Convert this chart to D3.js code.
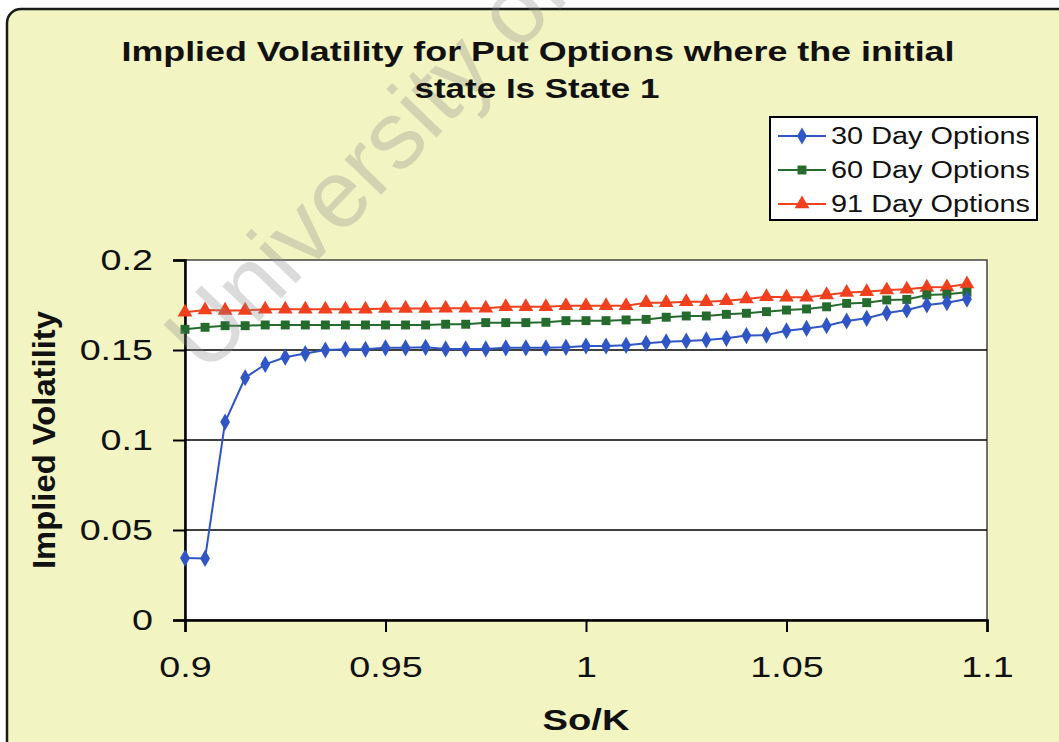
<!DOCTYPE html>
<html lang="en">
<head>
    <meta charset="utf-8">
    <title>Implied Volatility - Put Options</title>
    <script src="https://d3js.org/d3.v7.min.js"></script>
    <style type="text/css">
        body { margin: 0; background: #ffffff; }
        text { font-family: "Liberation Sans", Arial, sans-serif; }
    </style>
</head>
<body>
<script type="text/javascript">
    // chart data
    var moneyness = [0.9, 0.905, 0.91, 0.915, 0.92, 0.925, 0.93, 0.935, 0.94, 0.945,
                     0.95, 0.955, 0.96, 0.965, 0.97, 0.975, 0.98, 0.985, 0.99, 0.995,
                     1.0, 1.005, 1.01, 1.015, 1.02, 1.025, 1.03, 1.035, 1.04, 1.045,
                     1.05, 1.055, 1.06, 1.065, 1.07, 1.075, 1.08, 1.085, 1.09, 1.095];

    var vol30 = [0.0344, 0.0342, 0.110, 0.1346, 0.142, 0.146, 0.148, 0.150, 0.1504, 0.1504,
                 0.1512, 0.1512, 0.1515, 0.1506, 0.1506, 0.1506, 0.1512, 0.1512, 0.1512, 0.1515,
                 0.1522, 0.1522, 0.1526, 0.1537, 0.1546, 0.155, 0.1556, 0.1565, 0.158, 0.1583,
                 0.1607, 0.162, 0.1635, 0.1661, 0.1676, 0.1705, 0.1722, 0.175, 0.1763, 0.1783];

    var vol60 = [0.1615, 0.1626, 0.1635, 0.1635, 0.1639, 0.1639, 0.1639, 0.1639, 0.1639, 0.1639,
                 0.1639, 0.1639, 0.1639, 0.1643, 0.1643, 0.1652, 0.1652, 0.1652, 0.1654, 0.1663,
                 0.1663, 0.1663, 0.1667, 0.167, 0.1682, 0.1689, 0.1689, 0.1698, 0.1704, 0.1713,
                 0.1722, 0.1728, 0.174, 0.1759, 0.1763, 0.1778, 0.1781, 0.1806, 0.181, 0.1821];

    var vol91 = [0.171, 0.1722, 0.172, 0.172, 0.1726, 0.1726, 0.1726, 0.1726, 0.1726, 0.1726,
                 0.1731, 0.1731, 0.1731, 0.1732, 0.1732, 0.1732, 0.174, 0.174, 0.174, 0.1746,
                 0.1746, 0.1746, 0.1746, 0.1763, 0.1763, 0.1768, 0.1768, 0.1774, 0.1783, 0.1796,
                 0.1793, 0.1793, 0.1806, 0.1819, 0.1824, 0.1833, 0.1837, 0.1848, 0.185, 0.1867];

    var seriesNames = ["30 Day Options", "60 Day Options", "91 Day Options"];
    var xTicks = [0.9, 0.95, 1, 1.05, 1.1];
    var yTicks = [0, 0.05, 0.1, 0.15, 0.2];

    var w = 1059, h = 742;
    var plot = {left: 185, top: 260, right: 987, bottom: 620};

    // the scanned chart is a bit wider than it is tall, so text gets stretched sideways
    function stretch(sel, f) {
        sel.each(function() {
            var len = this.getComputedTextLength();
            d3.select(this)
                .attr("textLength", len * f)
                .attr("lengthAdjust", "spacingAndGlyphs");
        });
    }

    var svg = d3.select("body").append("svg")
        .attr("width", w)
        .attr("height", h);

    // chart area (yellow panel with rounded frame)
    svg.append("rect")
        .attr("x", 0).attr("y", 0)
        .attr("width", w).attr("height", h)
        .attr("fill", "#ffffff");
    svg.append("rect")
        .attr("x", 7).attr("y", 9)
        .attr("width", 1070).attr("height", 760)
        .attr("rx", 14).attr("ry", 14)
        .attr("fill", "#f2f4c2")
        .attr("stroke", "#1a1a1a")
        .attr("stroke-width", 2.5);

    var x = d3.scaleLinear().domain([0.9, 1.1]).range([plot.left, plot.right]);
    var y = d3.scaleLinear().domain([0, 0.2]).range([plot.bottom, plot.top]);

    // plot area
    svg.append("rect")
        .attr("x", plot.left).attr("y", plot.top)
        .attr("width", plot.right - plot.left)
        .attr("height", plot.bottom - plot.top)
        .attr("fill", "#ffffff")
        .attr("stroke", "#444")
        .attr("stroke-width", 1.5);

    // gridlines
    svg.append("g").selectAll("line")
        .data(yTicks.slice(1, 4))
        .enter().append("line")
        .attr("x1", plot.left).attr("x2", plot.right)
        .attr("y1", function(d) { return y(d); })
        .attr("y2", function(d) { return y(d); })
        .attr("stroke", "#000")
        .attr("stroke-width", 1.5);

    // axes
    var fmt = function(d) { return String(+d.toFixed(2)); };
    var xAxis = svg.append("g")
        .attr("transform", "translate(0," + plot.bottom + ")")
        .call(d3.axisBottom(x).tickValues(xTicks).tickSize(12).tickPadding(24).tickFormat(fmt));
    var yAxis = svg.append("g")
        .attr("transform", "translate(" + plot.left + ",0)")
        .call(d3.axisLeft(y).tickValues(yTicks).tickSize(12).tickPadding(20).tickFormat(fmt));

    [xAxis, yAxis].forEach(function(g) {
        g.select(".domain").attr("stroke", "#000").attr("stroke-width", 2.5);
        g.selectAll(".tick line").attr("stroke", "#000").attr("stroke-width", 2);
        g.selectAll(".tick text")
            .attr("fill", "#111")
            .style("font-family", "'Liberation Sans', Arial, sans-serif")
            .style("font-size", "29px");
        stretch(g.selectAll(".tick text"), 1.3);
    });
    xAxis.selectAll(".tick text").attr("dy", "0.71em");

    // series
    var series = [
        {name: seriesNames[0], values: vol30, color: "#2f56c4", symbol: d3.symbolDiamond, size: 85},
        {name: seriesNames[1], values: vol60, color: "#256b2e", symbol: d3.symbolSquare, size: 80},
        {name: seriesNames[2], values: vol91, color: "#f0401e", symbol: d3.symbolTriangle, size: 95}
    ];

    var line = d3.line()
        .x(function(d) { return x(d[0]); })
        .y(function(d) { return y(d[1]); });

    series.slice().reverse().forEach(function(s) {
        var pts = moneyness.map(function(m, i) { return [m, s.values[i]]; });
        svg.append("path")
            .datum(pts)
            .attr("d", line)
            .attr("fill", "none")
            .attr("stroke", s.color)
            .attr("stroke-width", 2);
        svg.append("g").selectAll("path")
            .data(pts)
            .enter().append("path")
            .attr("transform", function(d) { return "translate(" + x(d[0]) + "," + y(d[1]) + ")"; })
            .attr("d", d3.symbol().type(s.symbol).size(s.size))
            .attr("fill", s.color);
    });

    // watermark
    svg.append("text")
        .attr("transform", "translate(206,376) rotate(-46)")
        .attr("fill", "#8a8a8a")
        .attr("opacity", 0.3)
        .style("font-size", "96px")
        .text("University of Cape Town");

    // title
    var title = svg.append("text")
        .attr("text-anchor", "middle")
        .attr("font-weight", "bold")
        .style("font-size", "28px")
        .attr("fill", "#111");
    title.append("tspan").attr("x", 538).attr("y", 61)
        .attr("textLength", 833).attr("lengthAdjust", "spacingAndGlyphs")
        .text("Implied Volatility for Put Options where the initial");
    title.append("tspan").attr("x", 537).attr("y", 98)
        .attr("textLength", 245).attr("lengthAdjust", "spacingAndGlyphs")
        .text("state Is State 1");

    // axis titles
    svg.append("text")
        .attr("x", 586).attr("y", 730)
        .attr("text-anchor", "middle")
        .attr("font-weight", "bold")
        .style("font-size", "29px")
        .attr("fill", "#111")
        .attr("textLength", 87).attr("lengthAdjust", "spacingAndGlyphs")
        .text("So/K");
    svg.append("text")
        .attr("transform", "translate(55,440) rotate(-90)")
        .attr("text-anchor", "middle")
        .attr("font-weight", "bold")
        .style("font-size", "31px")
        .attr("fill", "#111")
        .attr("textLength", 258).attr("lengthAdjust", "spacingAndGlyphs")
        .text("Implied Volatility");

    // legend
    var legend = svg.append("g").attr("transform", "translate(770,117)");
    legend.append("rect")
        .attr("width", 267).attr("height", 103)
        .attr("fill", "#ffffff")
        .attr("stroke", "#000")
        .attr("stroke-width", 2);
    var items = legend.selectAll("g.item")
        .data(series)
        .enter().append("g")
        .attr("class", "item")
        .attr("transform", function(d, i) { return "translate(0," + (19 + i * 34) + ")"; });
    items.append("line")
        .attr("x1", 8).attr("x2", 56)
        .attr("stroke", function(d) { return d.color; })
        .attr("stroke-width", 2);
    items.append("path")
        .attr("transform", "translate(32,0)")
        .attr("d", function(d) { return d3.symbol().type(d.symbol).size(d.size)(); })
        .attr("fill", function(d) { return d.color; });
    items.append("text")
        .attr("x", 61).attr("dy", "0.36em")
        .style("font-size", "23px")
        .attr("fill", "#111")
        .attr("textLength", 199).attr("lengthAdjust", "spacingAndGlyphs")
        .text(function(d) { return d.name; });
</script>
</body>
</html>
